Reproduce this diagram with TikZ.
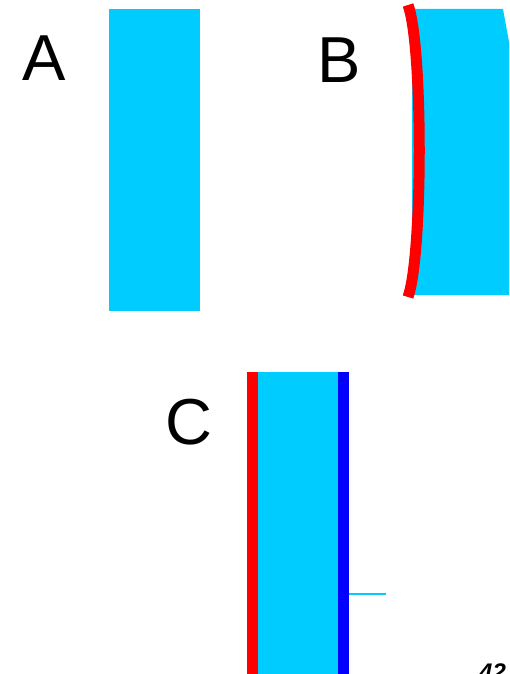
\documentclass[tikz,border=0pt]{standalone}
\usepackage{fontspec}
\setmainfont{Liberation Sans}
\definecolor{skyc}{HTML}{00CCFF}
\definecolor{redc}{HTML}{FF0000}
\definecolor{bluec}{HTML}{0000FF}
\begin{document}
\begin{tikzpicture}[x=1pt,y=-1pt,
  letter/.style={anchor=base west,inner sep=0pt,font=\fontsize{65}{65}\selectfont},
  numtext/.style={anchor=base west,inner sep=0pt,font=\fontsize{24}{24}\selectfont\bfseries\itshape}]
\useasboundingbox (0,0) rectangle (509,674);
\clip (0,0) rectangle (509,674);
% A
\node[letter] (la) at (22,81) {A};
\fill[skyc] (109,9) rectangle (200,311);
% B
\node[letter] (lb) at (317,83) {B};
\fill[skyc] (412,9) -- (503,9) -- (515,75) -- (515,295) -- (412,295) -- cycle;
\draw[redc,line width=11pt] (408,5) .. controls (423,45) and (423,255) .. (408,297);
% C
\node[letter] (lc) at (165,444) {C};
\fill[redc] (247,372) rectangle (258,680);
\fill[skyc] (258,372) rectangle (338,680);
\fill[bluec] (338,372) rectangle (349,680);
\coordinate (cl) at (349,594);
\coordinate (cr) at (386,594);
\draw[skyc,line width=1.3pt] (cl) -- (cr);
% number
\node[numtext] (num) at (479,680) {42};
\end{tikzpicture}
\end{document}
